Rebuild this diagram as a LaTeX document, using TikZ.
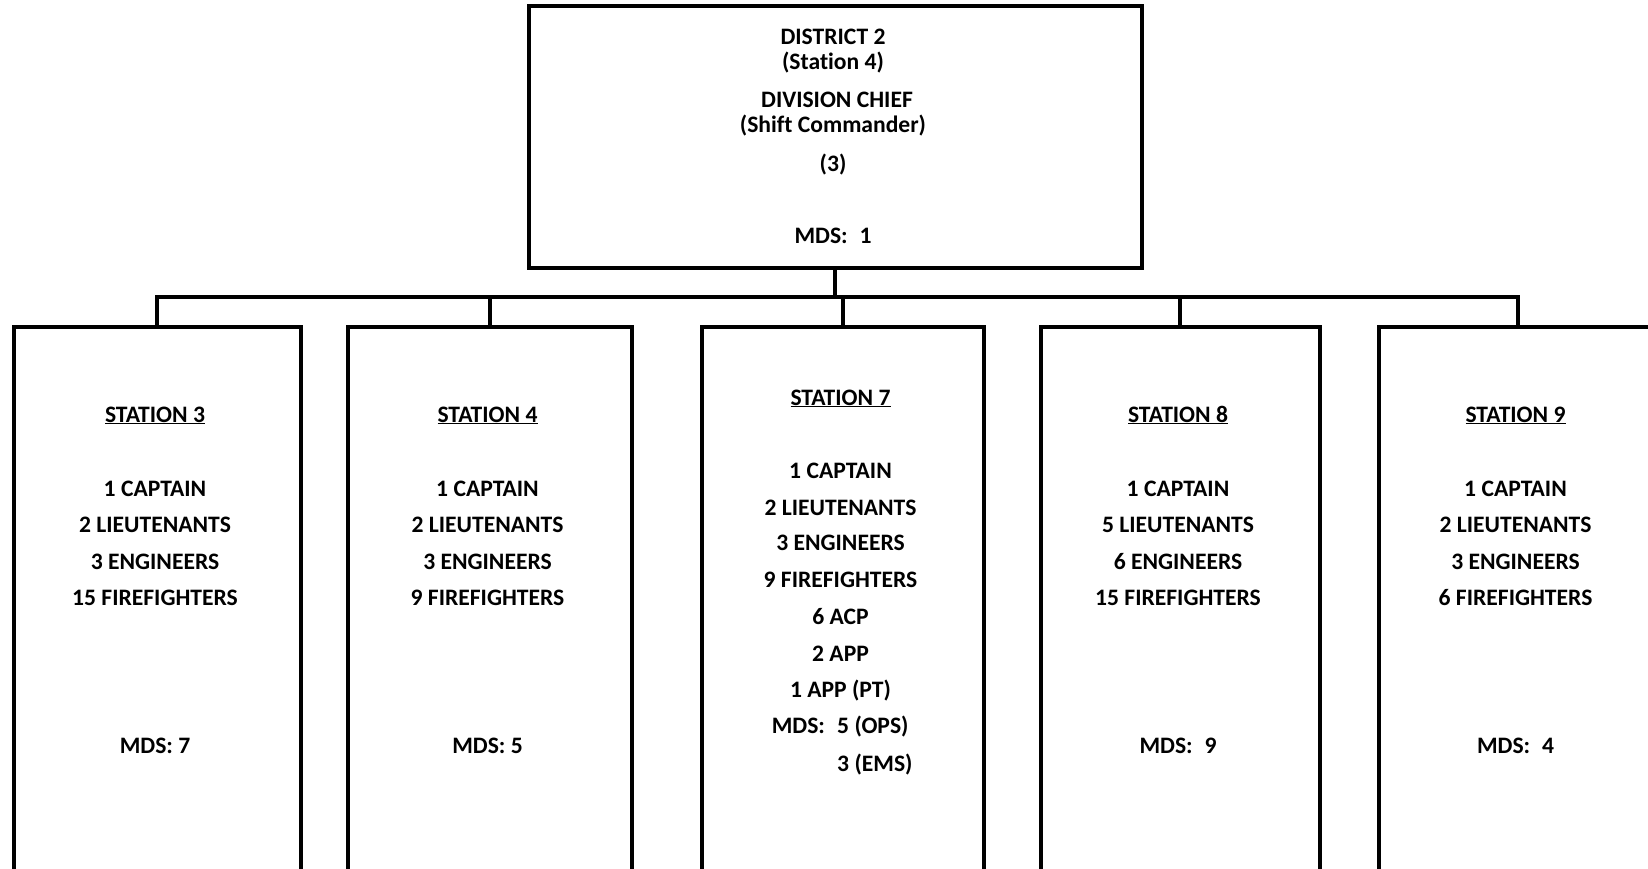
\documentclass[tikz,border=0pt]{standalone}
\usepackage{fontspec}
\setmainfont[Ligatures={NoCommon,NoRare}]{Carlito}
\begin{document}
\begin{tikzpicture}[x=1pt,y=-1pt,
  box/.style={draw=black, line width=4pt, line join=miter, inner sep=0pt, fill=none},
  conn/.style={draw=black, line width=4pt},
  txt/.style={font=\bfseries\fontsize{23.6}{28}\selectfont, inner sep=0pt, anchor=base},
  ttxt/.style={font=\bfseries\fontsize{23.6}{28}\selectfont, inner sep=0pt, anchor=base}]
\useasboundingbox (0,0) rectangle (1648,869);
\clip (0,0) rectangle (1648,869);
% boxes
\node[box, anchor=north west, minimum width=613pt, minimum height=262pt] (top) at (526.5,4) {};
\node[box, anchor=north west, minimum width=287pt, minimum height=600pt] (s3) at (11.5,325) {};
\node[box, anchor=north west, minimum width=284pt, minimum height=600pt] (s4) at (345.5,325) {};
\node[box, anchor=north west, minimum width=282pt, minimum height=600pt] (s7) at (699.5,325) {};
\node[box, anchor=north west, minimum width=279pt, minimum height=600pt] (s8) at (1038.5,325) {};
\node[box, anchor=north west, minimum width=278pt, minimum height=600pt] (s9) at (1376.5,325) {};
% connectors
\coordinate (bus) at (833,297);
\draw[conn] (top.south) -- (top.south |- bus);
\draw[conn, line join=miter] (s3.north) |- (bus) -| (s9.north);
\draw[conn] (s4.north) -- (s4.north |- bus);
\draw[conn] (s7.north) -- (s7.north |- bus);
\draw[conn] (s8.north) -- (s8.north |- bus);
% top text
\node[ttxt] (t1) at (833,45) {DISTRICT 2};
\node[ttxt] (t2) at (833,70) {(Station 4)};
\node[ttxt] (t3) at (837,108) {DIVISION CHIEF};
\node[ttxt] (t4) at (833,133) {(Shift Commander)};
\node[ttxt] (t5) at (833,172) {(3)};
\node[ttxt] (t6) at (833,243) {MDS:\enspace 1};
% station 3
\node[txt] (a1) at (155,422) {\underline{STATION 3}};
\node[txt] (a2) at (155,496) {1 CAPTAIN};
\node[txt] (a3) at (155,532) {2 LIEUTENANTS};
\node[txt] (a4) at (155,569) {3 ENGINEERS};
\node[txt] (a5) at (155,605) {15 FIREFIGHTERS};
\node[txt] (a6) at (155,753) {MDS: 7};
% station 4
\node[txt] (b1) at (487.5,422) {\underline{STATION 4}};
\node[txt] (b2) at (487.5,496) {1 CAPTAIN};
\node[txt] (b3) at (487.5,532) {2 LIEUTENANTS};
\node[txt] (b4) at (487.5,569) {3 ENGINEERS};
\node[txt] (b5) at (487.5,605) {9 FIREFIGHTERS};
\node[txt] (b6) at (487.5,753) {MDS: 5};
% station 7
\node[txt] (c1) at (840.5,405) {\underline{STATION 7}};
\node[txt] (c2) at (840.5,478) {1 CAPTAIN};
\node[txt] (c3) at (840.5,515) {2 LIEUTENANTS};
\node[txt] (c4) at (840.5,550) {3 ENGINEERS};
\node[txt] (c5) at (840.5,587) {9 FIREFIGHTERS};
\node[txt] (c6) at (840.5,624) {6 ACP};
\node[txt] (c7) at (840.5,661) {2 APP};
\node[txt] (c8) at (840.5,697) {1 APP (PT)};
\node[txt, anchor=base east] (c9) at (837,733) {MDS:\enspace};
\node[txt, anchor=base west] (c10) at (837,733) {5 (OPS)};
\node[txt, anchor=base west] (c11) at (837,771) {3 (EMS)};
% station 8
\node[txt] (d1) at (1178,422) {\underline{STATION 8}};
\node[txt] (d2) at (1178,496) {1 CAPTAIN};
\node[txt] (d3) at (1178,532) {5 LIEUTENANTS};
\node[txt] (d4) at (1178,569) {6 ENGINEERS};
\node[txt] (d5) at (1178,605) {15 FIREFIGHTERS};
\node[txt] (d6) at (1178,753) {MDS:\enspace 9};
% station 9
\node[txt] (e1) at (1515.5,422) {\underline{STATION 9}};
\node[txt] (e2) at (1515.5,496) {1 CAPTAIN};
\node[txt] (e3) at (1515.5,532) {2 LIEUTENANTS};
\node[txt] (e4) at (1515.5,569) {3 ENGINEERS};
\node[txt] (e5) at (1515.5,605) {6 FIREFIGHTERS};
\node[txt] (e6) at (1515.5,753) {MDS:\enspace 4};
\end{tikzpicture}
\end{document}
